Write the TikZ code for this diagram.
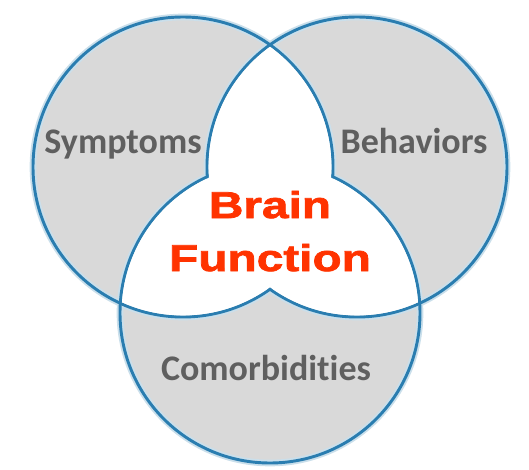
\documentclass[tikz,border=0pt]{standalone}
\usepackage{fontspec}
\setmainfont{Carlito}[Ligatures=NoCommon]
\newfontfamily\brainfont[FakeStretch=1.28,FakeBold=2]{Liberation Sans}
\definecolor{vennblue}{HTML}{2A7DB0}
\definecolor{venngray}{HTML}{D9D9D9}
\definecolor{labelgray}{HTML}{5F5F5F}
\definecolor{brainred}{HTML}{FF3300}

\begin{document}
\begin{tikzpicture}[x=0.75pt,y=0.75pt,
  ring/.style={draw=vennblue, line width=2.2pt},
  ring glow/.style={draw=vennblue!25, line width=5pt},
  area label/.style={anchor=base, inner sep=0pt, text=labelgray, font=\fontsize{27}{30}\selectfont\bfseries},
  core label/.style={anchor=base, inner sep=0pt, text=brainred, font=\brainfont\fontsize{28}{32}\selectfont\bfseries}]
\useasboundingbox (0,0) rectangle (529,469);
\def\rad{150}
\def\inrad{148.4}
\coordinate (sym) at (183,302);
\coordinate (beh) at (357,302);
\coordinate (com) at (270,156);

% grey circles
\fill[venngray] (sym) circle (\rad) (beh) circle (\rad) (com) circle (\rad);
% outlines
\foreach \c in {sym,beh,com} {\draw[ring glow] (\c) circle (\rad);}
\foreach \c in {sym,beh,com} {\draw[ring] (\c) circle (\rad);}
% white overlaps, covering the inner arcs
\begin{scope}
  \clip (sym) circle (\inrad);
  \fill[white] (beh) circle (\inrad) (com) circle (\inrad);
\end{scope}
\begin{scope}
  \clip (beh) circle (\inrad);
  \fill[white] (com) circle (\inrad);
\end{scope}

\node[area label] (symptoms) at (123,316) {Symptoms};
\node[area label] (behaviors) at (414,316) {Behaviors};
\node[area label] (comorb) at (266,89) {Comorbidities};
\node[core label] (brain) at (270,251) {Brain};
\node[core label] (function) at (270,198) {Function};
\end{tikzpicture}
\end{document}
